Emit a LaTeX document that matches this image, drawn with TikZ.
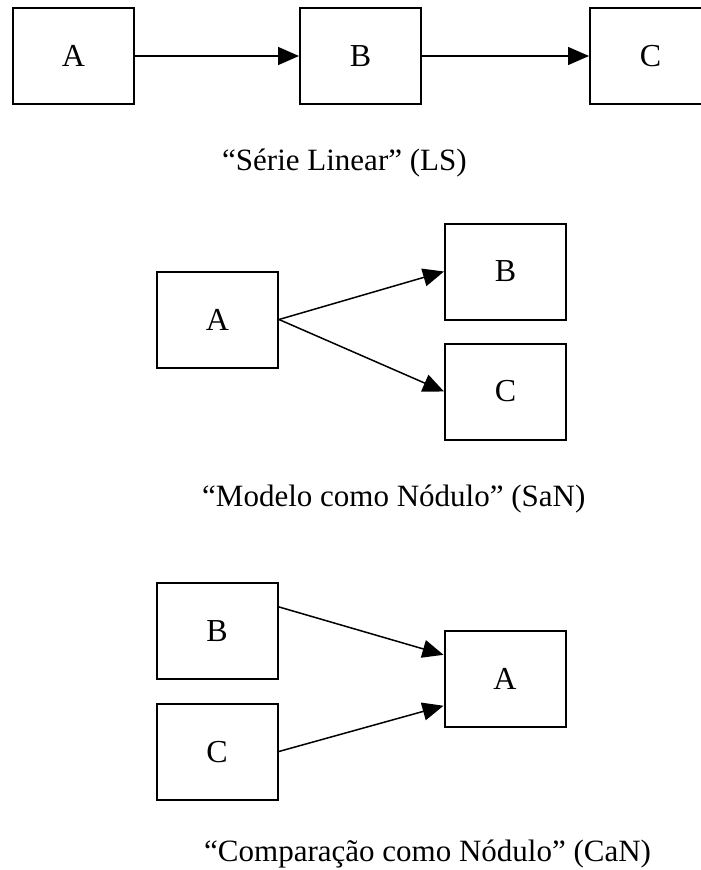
\documentclass[tikz,border=0pt]{standalone}
\usepackage{fontspec}
\setmainfont{Liberation Serif}
\usetikzlibrary{arrows.meta,calc}
\tikzset{
  box/.style={draw=black, line width=2pt, minimum width=121pt, minimum height=96pt, inner sep=0pt, font=\fontsize{32}{38}\selectfont},
  conn/.style={line width=1.5pt, -{Triangle[length=21pt,width=18pt]}},
  captext/.style={anchor=base west, inner sep=0pt, font=\fontsize{31}{37}\selectfont}
}
\begin{document}
\begin{tikzpicture}[x=1pt,y=-1pt]
\useasboundingbox (0,0) rectangle (701,870);
\clip (0,0) rectangle (701,870);
% Linear series
\node[box] (la) at (73.5,56) {A};
\node[box] (lb) at (360.5,56) {B};
\node[box] (lc) at (650.5,56) {C};
\draw[conn] (la.east) -- (lb.west);
\draw[conn] (lb.east) -- (lc.west);
\node[captext] (lcap) at (222,170) {“Série Linear” (LS)};
% Model as node
\node[box] (ma) at (217.5,319.5) {A};
\node[box] (mb) at (505.5,271.5) {B};
\node[box] (mc) at (505.5,391.5) {C};
\draw[conn] (ma.east) -- (mb.west);
\draw[conn] (ma.east) -- (mc.west);
\node[captext] (mcap) at (202,506) {“Modelo como Nódulo” (SaN)};
% Comparison as node
\node[box] (cb) at (217,631.3) {B};
\node[box] (cc) at (217,751.6) {C};
\node[box] (ca) at (505,679.3) {A};
\draw[conn] ($(cb.north east)!0.25!(cb.south east)$) -- ($(ca.north west)!0.25!(ca.south west)$);
\draw[conn] (cc.east) -- ($(ca.north west)!0.77!(ca.south west)$);
\node[captext] (ccap) at (204,861) {“Comparação como Nódulo” (CaN)};
\end{tikzpicture}
\end{document}
